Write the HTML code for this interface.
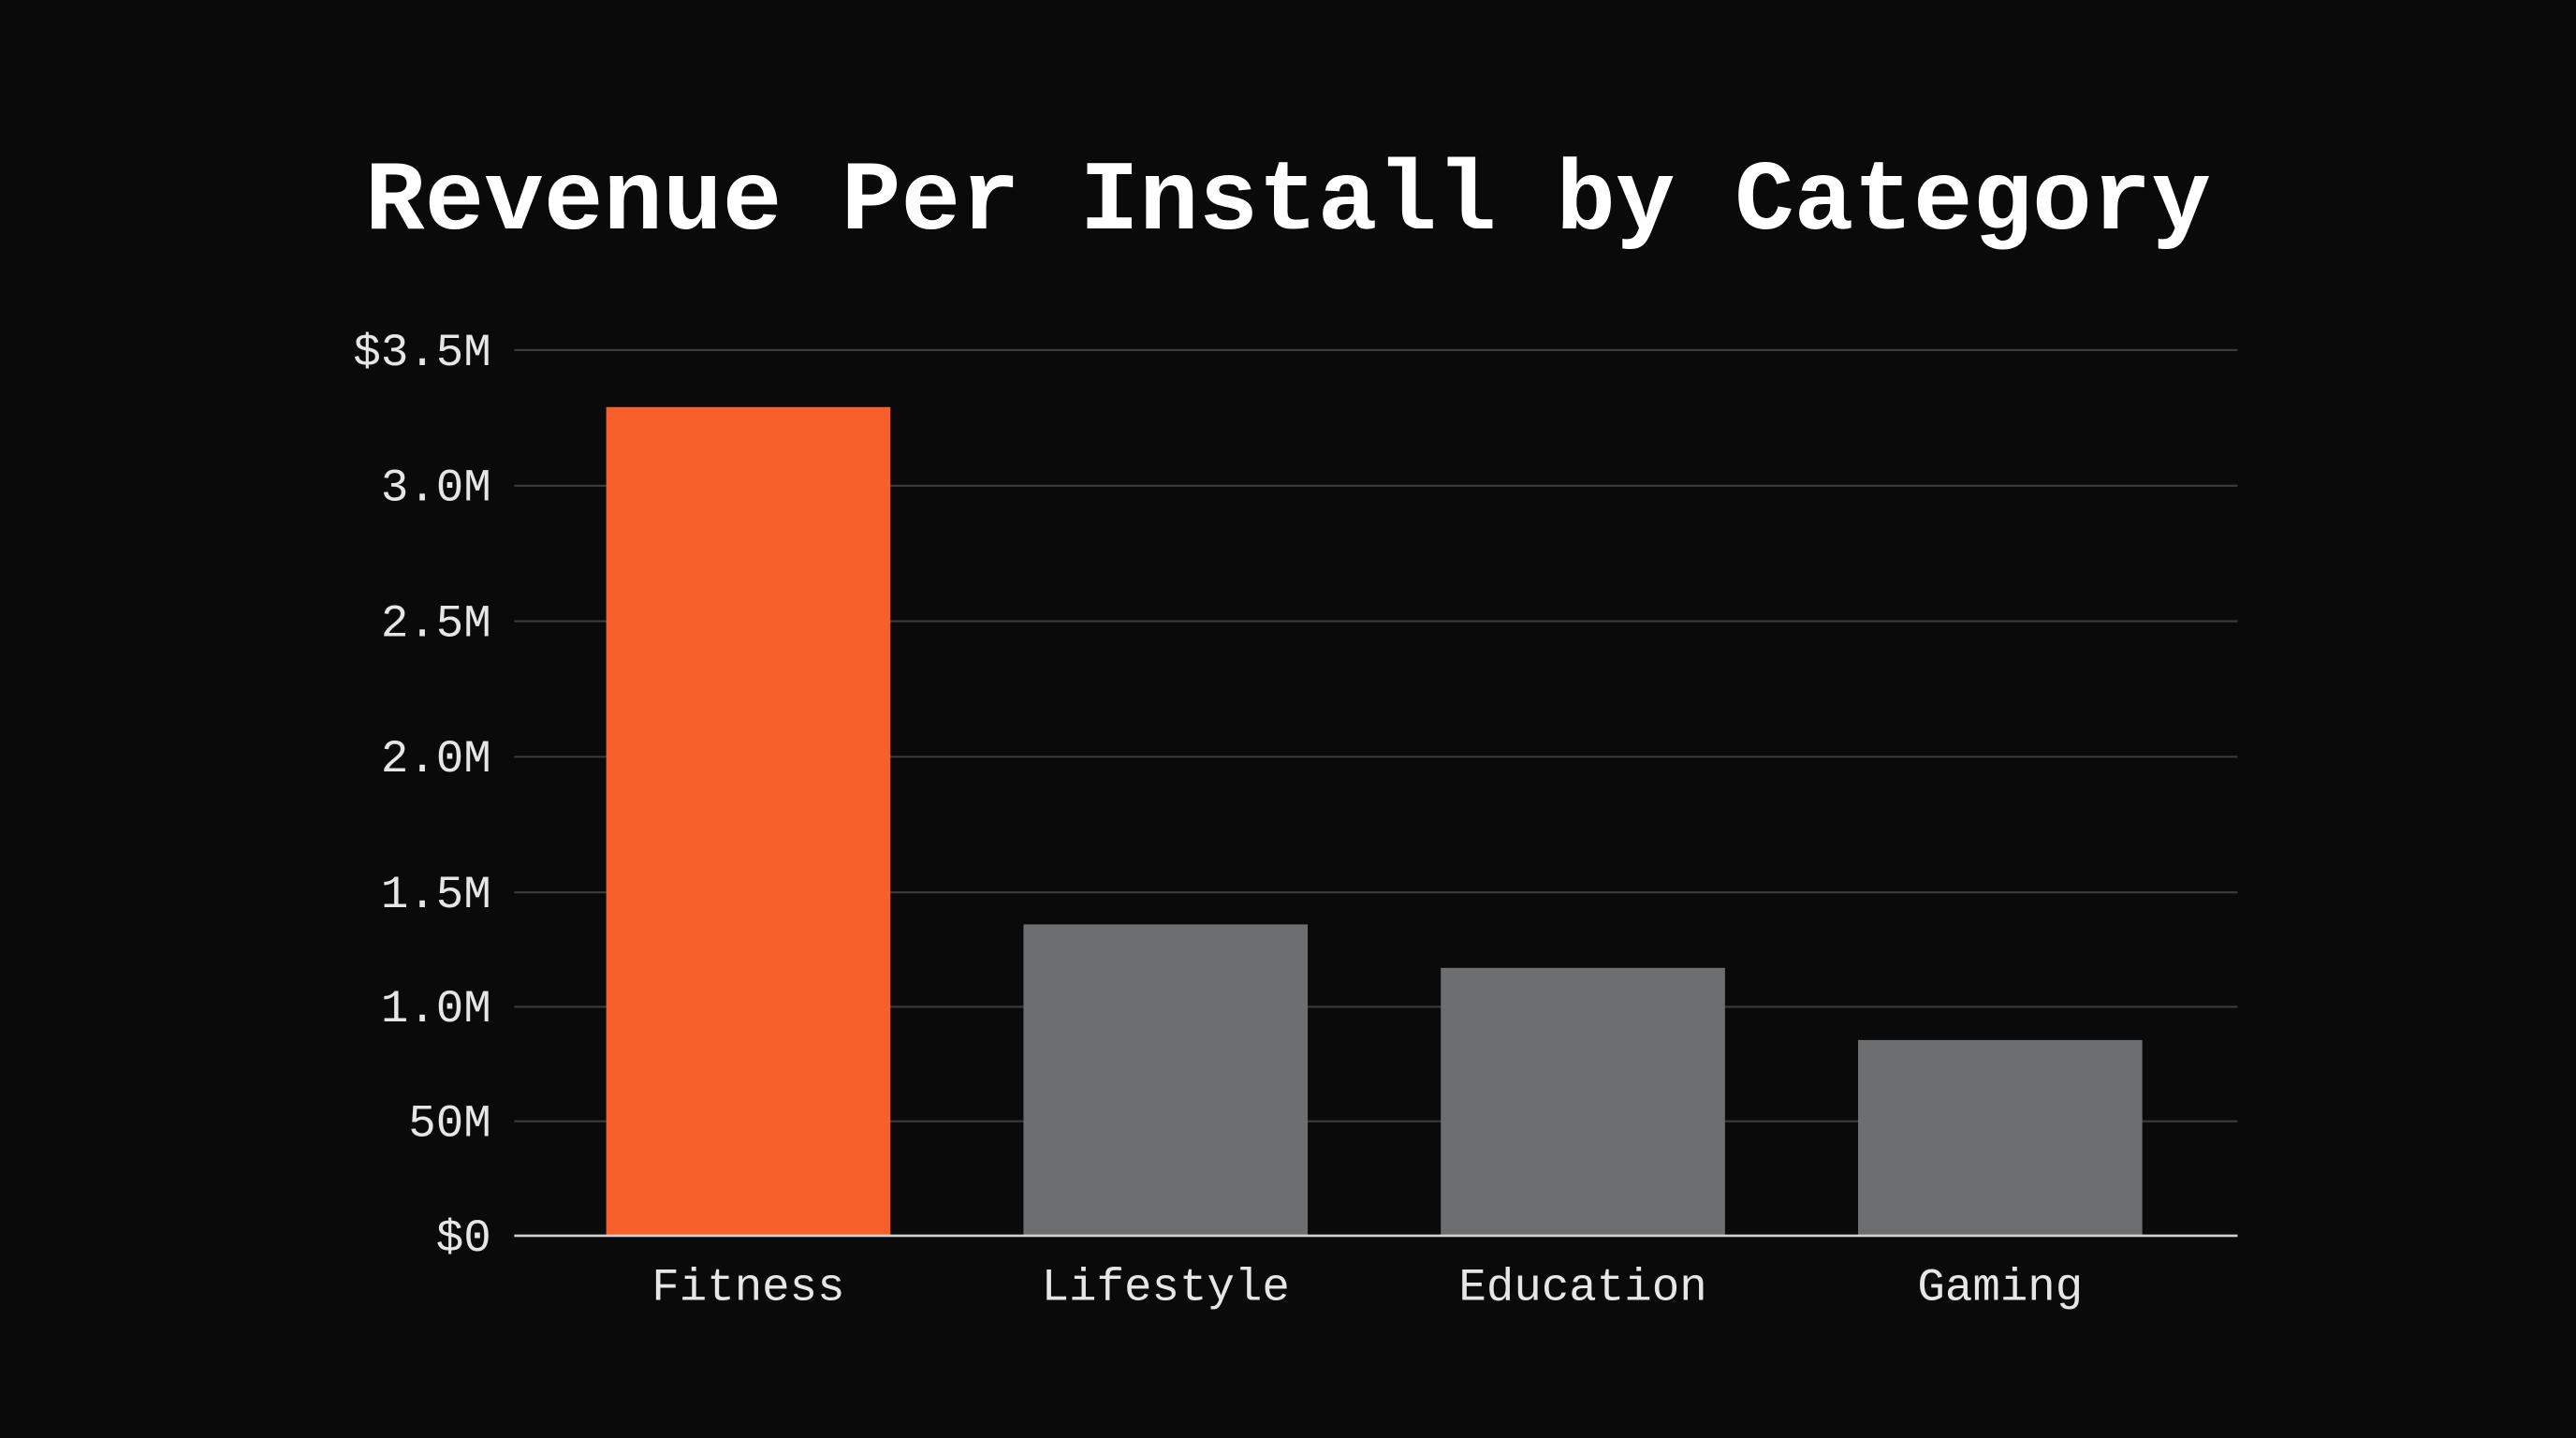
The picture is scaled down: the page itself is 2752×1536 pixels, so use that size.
<!DOCTYPE html>
<html>
<head>
<meta charset="utf-8">
<style>
html,body{margin:0;padding:0;background:#0a0a0a;}
svg{display:block;}
</style>
</head>
<body>
<svg id="chart" width="2752" height="1536" viewBox="0 0 1568 875" xmlns="http://www.w3.org/2000/svg">
<rect x="0" y="0" width="1568" height="875" fill="#0a0a0a"/>
<text x="784" y="139" text-anchor="middle" fill="#ffffff" font-family="'Liberation Mono', monospace" font-weight="bold" font-size="60.4">Revenue Per Install by Category</text>
<g id="grid"></g>
<g id="bars"></g>
<g id="labels"></g>
</svg>
<script>
const categories = ["Fitness", "Lifestyle", "Education", "Gaming"];
const values = [3.29, 1.36, 1.17, 0.855];
const tickValues = [0, 0.5, 1.0, 1.5, 2.0, 2.5, 3.0, 3.5];
const tickLabels = ["$0", "50M", "1.0M", "1.5M", "2.0M", "2.5M", "3.0M", "$3.5M"];
const highlight = ["Fitness"];

const NS = "http://www.w3.org/2000/svg";
const plotLeft = 313, plotRight = 1362;
function yScale(v) {
  if (v <= 1.5) return 752 - v / 1.5 * 209;
  return 543 - (v - 1.5) / 2.0 * 330;
}
const firstCenter = 455.5, step = 254;
function xScale(i) { return firstCenter + step * i; }
const barW = 173;

const grid = document.getElementById('grid');
tickValues.forEach((t, i) => {
  const y = yScale(t);
  const ln = document.createElementNS(NS, 'line');
  
  
  ln.setAttribute('x1', plotLeft); ln.setAttribute('x2', plotRight);
  ln.setAttribute('y1', y); ln.setAttribute('y2', y);
  ln.setAttribute('stroke', t === 0 ? '#d0d0d0' : '#3c3c3c');
  ln.setAttribute('stroke-width', t === 0 ? 1.5 : 1.2);
  grid.appendChild(ln);
  const tx = document.createElementNS(NS, 'text');
  
  
  tx.setAttribute('x', 299); tx.setAttribute('y', y + 9);
  tx.setAttribute('text-anchor', 'end');
  tx.setAttribute('fill', '#e6e6e6');
  tx.setAttribute('font-family', "'Liberation Mono', monospace");
  tx.setAttribute('font-size', '28');
  tx.textContent = tickLabels[i];
  grid.appendChild(tx);
});

const bars = document.getElementById('bars');
const labels = document.getElementById('labels');
categories.forEach((c, i) => {
  const cx = xScale(i);
  const top = yScale(values[i]);
  const r = document.createElementNS(NS, 'rect');
  
  
  r.setAttribute('x', cx - barW / 2);
  r.setAttribute('y', top);
  r.setAttribute('width', barW);
  r.setAttribute('height', yScale(0) - top);
  r.setAttribute('fill', highlight.includes(c) ? '#f8602b' : '#6d6e70');
  bars.appendChild(r);
  const tx = document.createElementNS(NS, 'text');
  
  
  tx.setAttribute('x', cx); tx.setAttribute('y', 791);
  tx.setAttribute('text-anchor', 'middle');
  tx.setAttribute('fill', '#e6e6e6');
  tx.setAttribute('font-family', "'Liberation Mono', monospace");
  tx.setAttribute('font-size', '28');
  tx.textContent = c;
  labels.appendChild(tx);
});
grid.parentNode.appendChild(grid.querySelector('line'));
</script>
</body>
</html>
